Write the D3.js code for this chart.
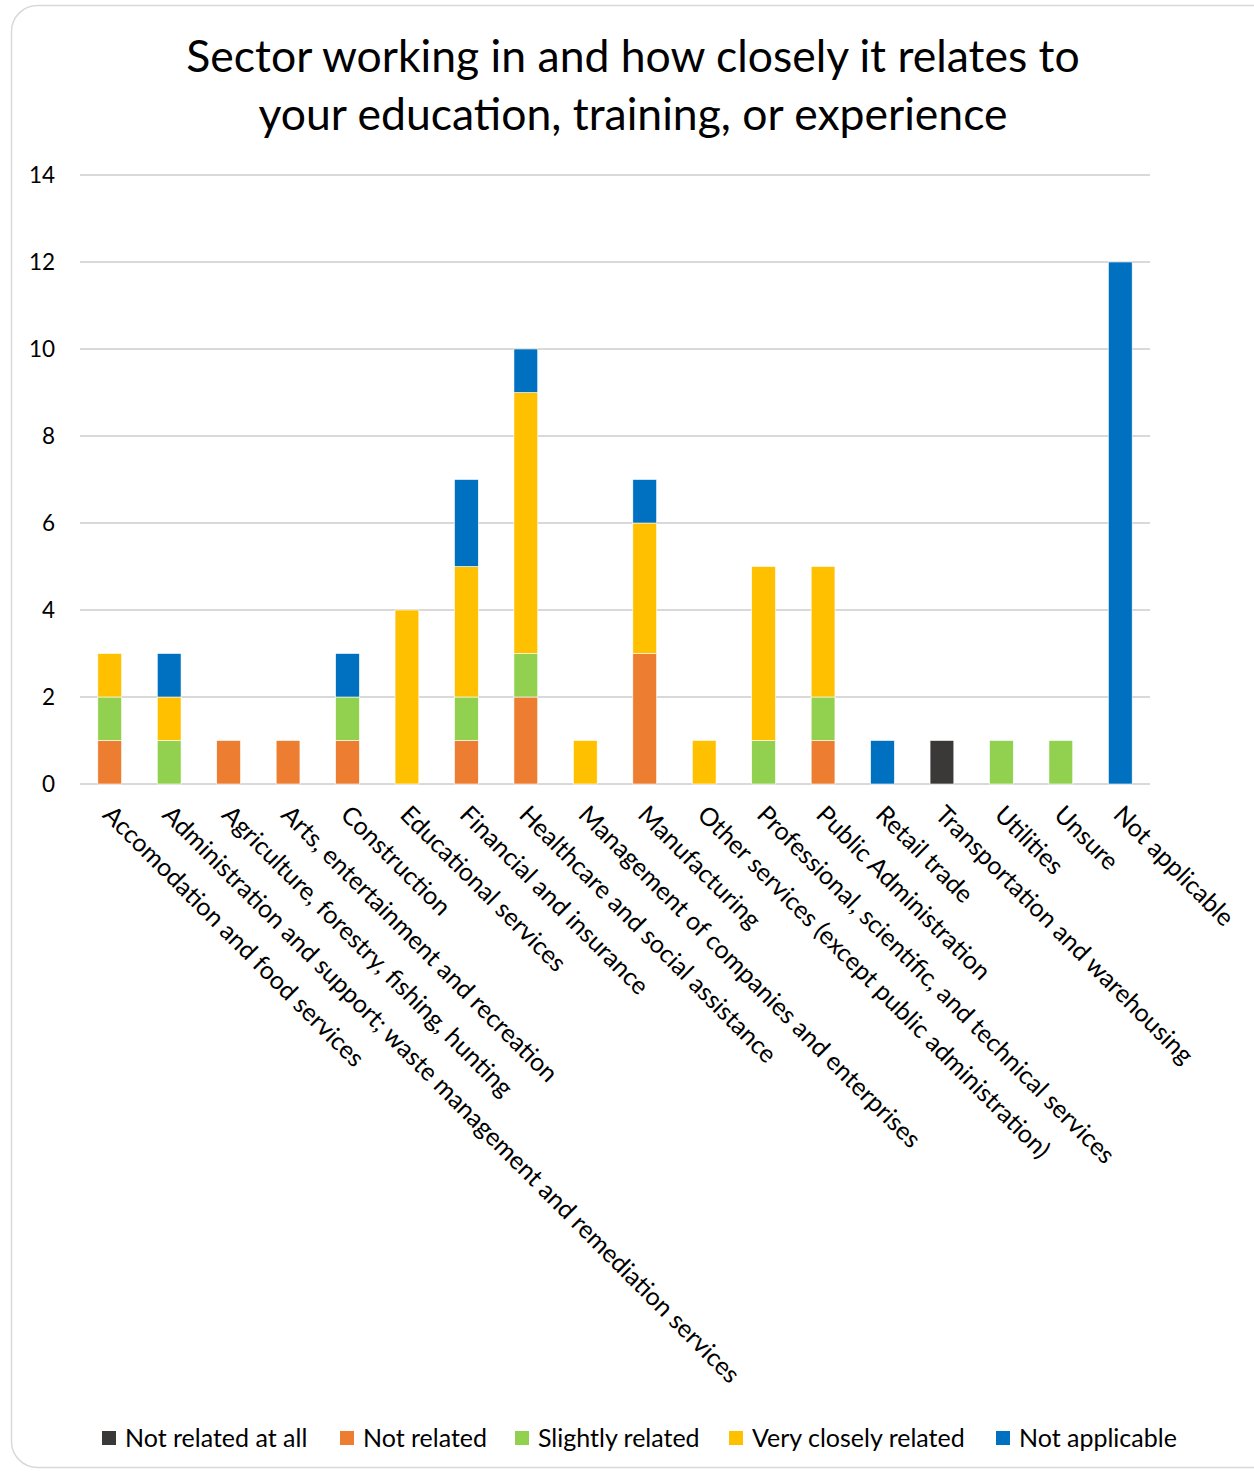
<!DOCTYPE html>
<html>
<head>
<meta charset="utf-8">
<script src="https://cdn.jsdelivr.net/npm/d3@7"></script>
<style>
  body { margin: 0; background: #fff; }
  svg text { font-family: Lato, "Open Sans", sans-serif; fill: #000; }
</style>
</head>
<body>
<svg class="chart"></svg>
<script>
var W = 1254, H = 1473;
var m = {top: 175, right: 104, bottom: 689, left: 80};
var w = W - m.left - m.right, h = H - m.top - m.bottom;

var categories = ["Accomodation and food services",
  "Administration and support; waste management and remediation services",
  "Agriculture, forestry, fishing, hunting",
  "Arts, entertainment and recreation",
  "Construction",
  "Educational services",
  "Financial and insurance",
  "Healthcare and social assistance",
  "Management of companies and enterprises",
  "Manufacturing",
  "Other services (except public administration)",
  "Professional, scientific, and technical services",
  "Public Administration",
  "Retail trade",
  "Transportation and warehousing",
  "Utilities",
  "Unsure",
  "Not applicable"];
var seriesNames = ["Not related at all", "Not related", "Slightly related", "Very closely related", "Not applicable"];
var colors = ["#3b3838", "#ed7d31", "#92d050", "#ffc000", "#0070c0"];
var notRelatedAtAll = [0, 0, 0, 0, 0, 0, 0, 0, 0, 0, 0, 0, 0, 0, 1, 0, 0, 0];
var notRelated      = [1, 0, 1, 1, 1, 0, 1, 2, 0, 3, 0, 0, 1, 0, 0, 0, 0, 0];
var slightly        = [1, 1, 0, 0, 1, 0, 1, 1, 0, 0, 0, 1, 1, 0, 0, 1, 1, 0];
var veryClosely     = [1, 1, 0, 0, 0, 4, 3, 6, 1, 3, 1, 4, 3, 0, 0, 0, 0, 0];
var notApplicable   = [0, 1, 0, 0, 1, 0, 2, 1, 0, 1, 0, 0, 0, 1, 0, 0, 0, 12];
var yTicks = [0, 2, 4, 6, 8, 10, 12, 14];

var rows = categories.map(function(c, i) {
  return {cat: c, "Not related at all": notRelatedAtAll[i], "Not related": notRelated[i],
    "Slightly related": slightly[i], "Very closely related": veryClosely[i], "Not applicable": notApplicable[i]};
});

var svg = d3.select(".chart").attr("width", W).attr("height", H);

// card border
svg.append("rect").attr("x", 11.5).attr("y", 5.5).attr("width", 1270).attr("height", 1462)
  .attr("rx", 26).attr("fill", "#fff").attr("stroke", "#d9d9d9").attr("stroke-width", 1.5);

// title
svg.append("text").attr("x", 633).attr("y", 72).attr("text-anchor", "middle")
  .style("font-size", "44.5px").text("Sector working in and how closely it relates to");
svg.append("text").attr("x", 633).attr("y", 130).attr("text-anchor", "middle")
  .style("font-size", "44.5px").text("your education, training, or experience");

var g = svg.append("g").attr("transform", "translate(" + m.left + "," + m.top + ")");

var x = d3.scaleBand().domain(categories).range([0, w]).paddingInner(0.6).paddingOuter(0.3);
var y = d3.scaleLinear().domain([0, 14]).range([h, 0]);

// gridlines
g.selectAll(".grid").data(yTicks).enter().append("line")
  .attr("x1", 0).attr("x2", w)
  .attr("y1", function(d) { return y(d); }).attr("y2", function(d) { return y(d); })
  .attr("stroke", "#d9d9d9").attr("stroke-width", 2);

var yAxis = g.append("g").call(d3.axisLeft(y).tickValues(yTicks).tickSize(0).tickPadding(25));
yAxis.select(".domain").remove();
yAxis.selectAll("text").style("font-size", "22.5px").attr("fill", "#000");

var stack = d3.stack().keys(seriesNames)(rows);

g.selectAll(".series").data(stack).enter().append("g")
  .attr("fill", function(d, i) { return colors[i]; })
  .selectAll("rect").data(function(d) { return d.filter(function(p) { return p[1] > p[0]; }); })
  .enter().append("rect")
  .attr("x", function(d) { return x(d.data.cat); })
  .attr("width", x.bandwidth())
  .attr("y", function(d) { return y(d[1]); })
  .attr("height", function(d) { return y(d[0]) - y(d[1]); })
  .attr("stroke", "#fff").attr("stroke-width", 0.6);

// category labels, rotated 45deg
g.selectAll(".cat").data(categories).enter().append("text")
  .attr("transform", function(d) {
    return "translate(" + (x(d) + x.bandwidth() / 2 - 2) + "," + (h + 26) + ") rotate(45)";
  })
  .attr("dy", "0.35em")
  .style("font-size", "25px")
  .text(String);

// legend
var legendX = [102, 340, 515, 729, 996];
var lg = svg.selectAll(".legend").data(seriesNames).enter().append("g")
  .attr("transform", function(d, i) { return "translate(" + legendX[i] + ",1431)"; });
lg.append("rect").attr("width", 14).attr("height", 14).attr("fill", function(d, i) { return colors[i]; });
lg.append("text").attr("x", 23).attr("y", 16).style("font-size", "25px").text(String);
</script>
</body>
</html>
